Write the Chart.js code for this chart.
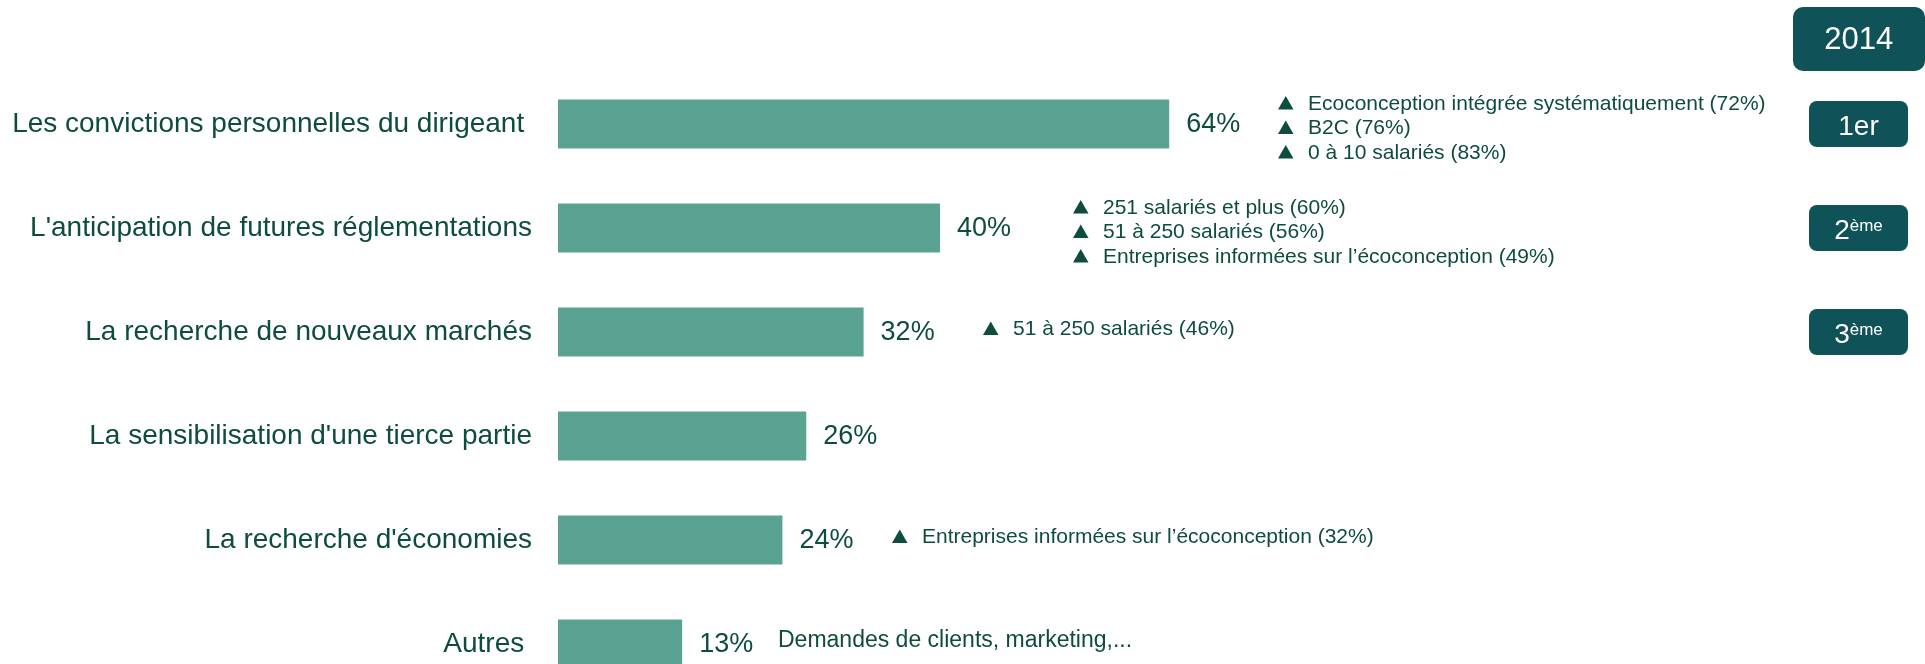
<!DOCTYPE html>
<html>
<head>
<meta charset="utf-8">
<script src="https://cdn.jsdelivr.net/npm/chart.js@4"></script>
<style>
    html, body { margin: 0; padding: 0; background: #ffffff; overflow: hidden; }
    #wrap { width: 1925px; height: 664px; overflow: hidden; }
    #chart { display: block; width: 1925px; height: 700px; }
</style>
</head>
<body>
<div id="wrap"><canvas id="chart" width="1925" height="700"></canvas></div>
<script>
// Data
const categories = [
    'Les convictions personnelles du dirigeant ',
    "L'anticipation de futures réglementations",
    'La recherche de nouveaux marchés',
    "La sensibilisation d'une tierce partie",
    "La recherche d'économies",
    'Autres '
];
const values = [64, 40, 32, 26, 23.5, 13];
const valueLabels = ['64%', '40%', '32%', '26%', '24%', '13%'];
const notes = [
    ['Ecoconception intégrée systématiquement (72%)', 'B2C (76%)', '0 à 10 salariés (83%)'],
    ['251 salariés et plus (60%)', '51 à 250 salariés (56%)', 'Entreprises informées sur l’écoconception (49%)'],
    ['51 à 250 salariés (46%)'],
    [],
    ['Entreprises informées sur l’écoconception (32%)'],
    ['Demandes de clients, marketing,...']
];
const noteArrow = [true, true, true, false, true, false];
const ranks = ['1er', '2', '3'];
const rankSup = ['', 'ème', 'ème'];
const yearLabel = '2014';

// Layout / styles
const FONT = '"Liberation Sans", Arial, sans-serif';
const TEXT = '#0d4c3e';
const BOX = '#0f5257';
const BAR = '#5aa392';
const noteX = [1278, 1073, 983, null, 892, 778];
const noteSize = [21, 21, 21, 21, 21, 23];

function roundRect(ctx, x, y, w, h, r) {
    ctx.beginPath();
    ctx.moveTo(x + r, y);
    ctx.arcTo(x + w, y, x + w, y + h, r);
    ctx.arcTo(x + w, y + h, x, y + h, r);
    ctx.arcTo(x, y + h, x, y, r);
    ctx.arcTo(x, y, x + w, y, r);
    ctx.closePath();
}

const annotations = {
    id: 'annotations',
    afterDatasetsDraw(chart) {
        const ctx = chart.ctx;
        const meta = chart.getDatasetMeta(0);
        ctx.save();

        meta.data.forEach((bar, i) => {
            // value label
            ctx.fillStyle = TEXT;
            ctx.font = '27px ' + FONT;
            ctx.textAlign = 'left';
            ctx.textBaseline = 'middle';
            ctx.fillText(valueLabels[i], bar.x + 17, bar.y + 1);

            // notes
            const lines = notes[i];
            if (lines.length) {
                const n = lines.length;
                const baseOff = n > 1 ? 10 : 3;
                ctx.font = noteSize[i] + 'px ' + FONT;
                ctx.textBaseline = 'alphabetic';
                lines.forEach((txt, j) => {
                    const by = bar.y + baseOff + (j - (n - 1) / 2) * 24.5;
                    let tx = noteX[i];
                    if (noteArrow[i]) {
                        ctx.beginPath();
                        ctx.moveTo(tx, by);
                        ctx.lineTo(tx + 15.5, by);
                        ctx.lineTo(tx + 7.75, by - 13.5);
                        ctx.closePath();
                        ctx.fill();
                        tx += 30;
                    }
                    ctx.fillText(txt, tx, by);
                });
            }

            // rank badges
            if (i < ranks.length) {
                ctx.fillStyle = BOX;
                roundRect(ctx, 1809, bar.y - 23, 99, 46, 8);
                ctx.fill();
                ctx.fillStyle = '#ffffff';
                ctx.textBaseline = 'alphabetic';
                ctx.font = '28px ' + FONT;
                const mainW = ctx.measureText(ranks[i]).width;
                ctx.font = '17px ' + FONT;
                const supW = rankSup[i] ? ctx.measureText(rankSup[i]).width : 0;
                const start = 1858.5 - (mainW + supW) / 2;
                ctx.font = '28px ' + FONT;
                ctx.textAlign = 'left';
                ctx.fillText(ranks[i], start, bar.y + 11);
                if (supW) {
                    ctx.font = '17px ' + FONT;
                    ctx.fillText(rankSup[i], start + mainW, bar.y + 3);
                }
            }
        });

        // year badge
        ctx.fillStyle = BOX;
        roundRect(ctx, 1793, 7, 132, 64, 10);
        ctx.fill();
        ctx.fillStyle = '#ffffff';
        ctx.font = '31px ' + FONT;
        ctx.textAlign = 'center';
        ctx.textBaseline = 'middle';
        ctx.fillText(yearLabel, 1858.8, 40);

        ctx.restore();
    }
};

const chart = new Chart(document.getElementById('chart').getContext('2d'), {
    type: 'bar',
    data: {
        labels: categories,
        datasets: [{
            data: values,
            backgroundColor: BAR,
            borderWidth: 0,
            barPercentage: 0.471,
            categoryPercentage: 1
        }]
    },
    options: {
        indexAxis: 'y',
        responsive: false,
        animation: false,
        layout: {
            // canvas is taller than the page: the last bar runs past the bottom edge
            padding: { top: 72, bottom: 4, left: 0, right: 412 }
        },
        plugins: {
            legend: { display: false },
            tooltip: { enabled: false }
        },
        scales: {
            x: {
                display: false,
                min: 0,
                max: 100
            },
            y: {
                grid: { display: false, drawTicks: false },
                border: { display: false },
                ticks: {
                    color: TEXT,
                    padding: 26,
                    font: { family: FONT, size: 28 }
                },
                afterFit(scale) {
                    scale.width = 558;
                    scale.paddingTop = 0;
                    scale.paddingBottom = 0;
                }
            }
        }
    },
    plugins: [annotations]
});
</script>
</body>
</html>
